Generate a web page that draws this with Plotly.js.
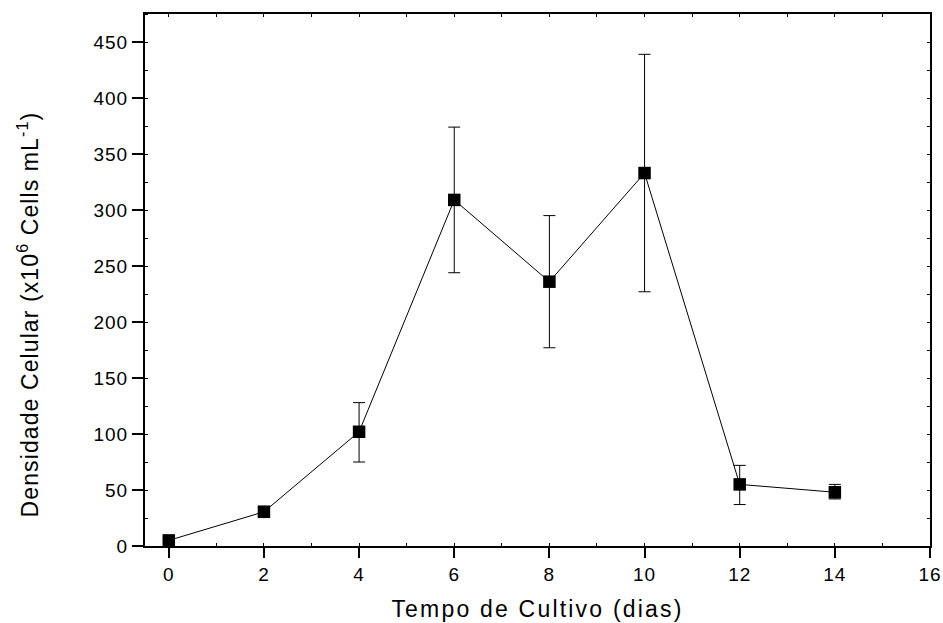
<!DOCTYPE html>
<html>
<head>
<meta charset="utf-8">
<script src="https://cdn.plot.ly/plotly-3.0.1.min.js"></script>
<style>
html,body{margin:0;padding:0;background:#fff}
#chart{width:943px;height:623px}
#chart .xtick text, #chart .ytick text{letter-spacing:1px}
#chart .g-xtitle text{letter-spacing:2.2px}
#chart .annotation-text{letter-spacing:1.1px}
</style>
</head>
<body>
<div id="chart"></div>
<script>
const days = [0, 2, 4, 6, 8, 10, 12, 14];
const density = [5, 30.5, 102, 309, 236, 333, 55, 48];
const errUp = [2, 5, 26, 65, 59, 106, 17, 7];
const errDown = [2, 4, 27, 65, 59, 106, 18, 6];
const xTicks = [0, 2, 4, 6, 8, 10, 12, 14, 16];
const yTicks = [0, 50, 100, 150, 200, 250, 300, 350, 400, 450];
const yTitle = 'Densidade Celular (x10<sup>6</sup> Cells mL<sup>-1</sup>)';
const xTitle = 'Tempo de Cultivo (dias)';

const font = {family: 'Liberation Sans, Arial, sans-serif', color: '#000'};

const traces = [
  {
    x: days, y: density, type: 'scatter', mode: 'lines+markers',
    line: {color: '#000', width: 1},
    marker: {symbol: 'square', size: 12.5, color: '#000'},
    error_y: {type: 'data', symmetric: false, array: errUp, arrayminus: errDown,
              color: '#000', thickness: 1, width: 6},
    showlegend: false, hoverinfo: 'x+y'
  },
  {
    x: [0], y: [0], xaxis: 'x2', yaxis: 'y2', type: 'scatter', mode: 'markers',
    marker: {opacity: 0}, showlegend: false, hoverinfo: 'skip'
  }
];

const layout = {
  width: 943, height: 623,
  margin: {l: 145, r: 13, t: 14, b: 77},
  paper_bgcolor: '#fff', plot_bgcolor: '#fff',
  font: font,
  xaxis: {
    range: [-0.5, 16], tickvals: xTicks, ticktext: xTicks.map(String),
    ticks: 'outside', ticklen: 10, tickwidth: 2, tickcolor: '#000',
    minor: {dtick: 1, ticks: 'inside', ticklen: 3, tickwidth: 1, tickcolor: '#000'},
    showline: true, linewidth: 2, linecolor: '#000', mirror: true,
    showgrid: false, zeroline: false,
    tickfont: {family: font.family, size: 19, color: '#000'},
    title: {text: xTitle, font: {family: font.family, size: 23, color: '#000'}, standoff: 17}
  },
  yaxis: {
    range: [0, 475], tickvals: yTicks, ticktext: yTicks.map(String),
    ticks: 'outside', ticklen: 11, tickwidth: 2, tickcolor: '#000',
    minor: {dtick: 25, ticks: 'inside', ticklen: 3, tickwidth: 1, tickcolor: '#000'},
    showline: true, linewidth: 2, linecolor: '#000', mirror: true,
    showgrid: false, zeroline: false,
    tickfont: {family: font.family, size: 19, color: '#000'}
  },
  xaxis2: {
    overlaying: 'x', side: 'top', range: [-0.5, 16], dtick: 1, tick0: 0,
    ticks: 'inside', ticklen: 3, tickwidth: 1, tickcolor: '#000',
    showticklabels: false, showgrid: false, zeroline: false, showline: false
  },
  yaxis2: {
    overlaying: 'y', side: 'right', range: [0, 475], dtick: 25, tick0: 0,
    ticks: 'inside', ticklen: 3, tickwidth: 1, tickcolor: '#000',
    showticklabels: false, showgrid: false, zeroline: false, showline: false
  },
  annotations: [{
    text: yTitle, textangle: -90, showarrow: false,
    xref: 'paper', yref: 'paper', x: -0.149, y: 0.434,
    xanchor: 'center', yanchor: 'middle',
    font: {family: font.family, size: 23, color: '#000'}
  }]
};

Plotly.newPlot('chart', traces, layout, {displayModeBar: false, staticPlot: true});
</script>
</body>
</html>
